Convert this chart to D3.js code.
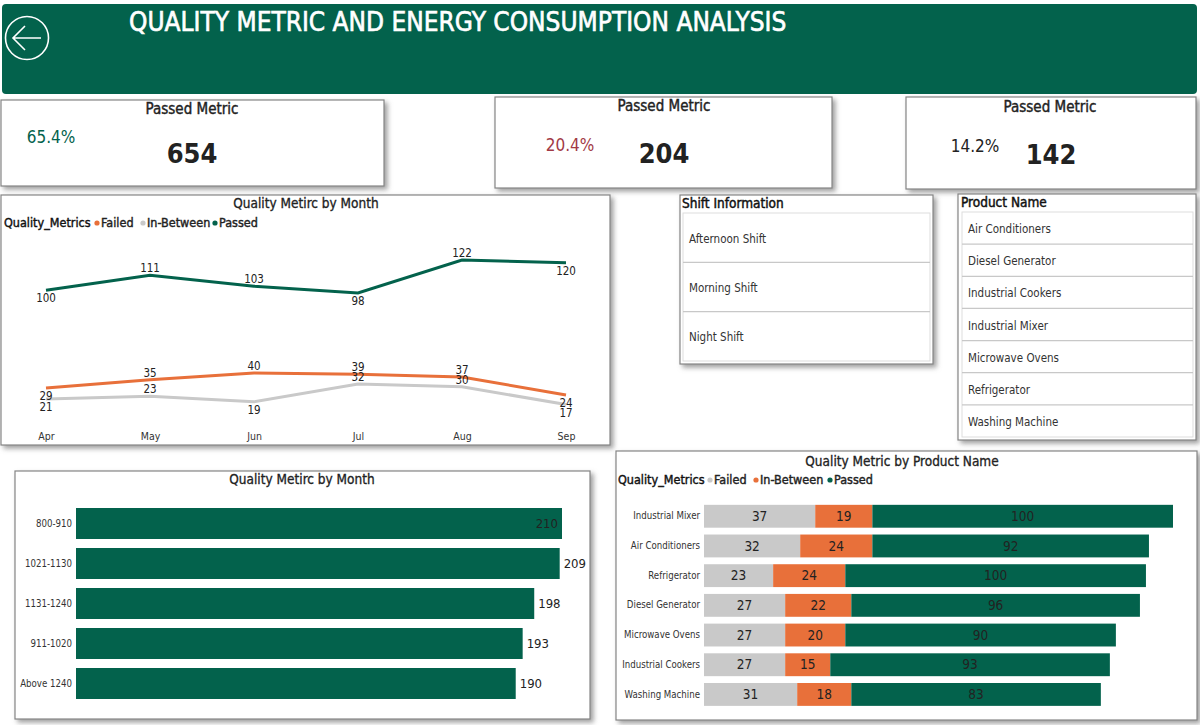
<!DOCTYPE html>
<meta charset="utf-8">
<style>
  body { margin: 0; background: #fff; }
  text { font-family: "DejaVu Sans", sans-serif; font-stretch: condensed; fill: #222; }
  .axis path, .axis line { display: none; }
</style>
<script src="https://d3js.org/d3.v7.min.js"></script>
<div id="my_dataviz"></div>
<script>

// data
var months = ["Apr", "May", "Jun", "Jul", "Aug", "Sep"];
var monthFailed = [29, 35, 40, 39, 37, 24];
var monthBetween = [21, 23, 19, 32, 30, 17];
var monthPassed = [100, 111, 103, 98, 122, 120];

var ranges = ["800-910", "1021-1130", "1131-1240", "911-1020", "Above 1240"];
var rangeCounts = [210, 209, 198, 193, 190];

var products = ["Industrial Mixer", "Air Conditioners", "Refrigerator", "Diesel Generator", "Microwave Ovens", "Industrial Cookers", "Washing Machine"];
var productFailed = [37, 32, 23, 27, 27, 27, 31];
var productBetween = [19, 24, 24, 22, 20, 15, 18];
var productPassed = [100, 92, 100, 96, 90, 93, 83];

var shiftItems = ["Afternoon Shift", "Morning Shift", "Night Shift"];
var productItems = ["Air Conditioners", "Diesel Generator", "Industrial Cookers", "Industrial Mixer", "Microwave Ovens", "Refrigerator", "Washing Machine"];

var cardTitles = ["Passed Metric", "Passed Metric", "Passed Metric"];
var cardPercents = ["65.4%", "20.4%", "14.2%"];
var cardValues = [654, 204, 142];

var green = "#03624c", orange = "#e8703a", grey = "#c9c9c9";

var svg = d3.select("#my_dataviz")
  .append("svg")
    .attr("width", 1200)
    .attr("height", 725)
    .style("display", "block");

// soft shadow for the panels
var filter = svg.append("defs").append("filter")
    .attr("id", "shadow")
    .attr("x", "-5%").attr("y", "-5%")
    .attr("width", "110%").attr("height", "115%");
filter.append("feDropShadow")
    .attr("dx", 3).attr("dy", 3)
    .attr("stdDeviation", 2.5)
    .attr("flood-color", "#777")
    .attr("flood-opacity", 0.7);

function panel(x0, y0, x1, y1) {
  svg.append("rect")
    .attr("x", x0).attr("y", y0)
    .attr("width", x1 - x0).attr("height", y1 - y0)
    .attr("fill", "#fff")
    .attr("stroke", "#858585")
    .attr("stroke-width", 1.2)
    .attr("filter", "url(#shadow)");
}

function label(x, y, txt, size, opts) {
  opts = opts || {};
  var t = svg.append("text")
    .attr("x", x).attr("y", y)
    .attr("dy", "0.35em")
    .attr("text-anchor", opts.anchor || "start")
    .style("font-size", size + "px")
    .style("font-weight", opts.weight || "normal")
    .style("fill", opts.color || "#222")
    .text(txt);
  // no semi bold face installed, a thin outline gets close
  if (opts.semi) {
    t.style("stroke", opts.color || "#222").style("stroke-width", opts.semi);
  }
  return t;
}

function legend(y, titleX, entries) {
  label(titleX, y, "Quality_Metrics", 12.5, {semi: 0.4, color: "#111"});
  entries.forEach(function(e) {
    svg.append("circle").attr("cx", e.dot).attr("cy", y).attr("r", 2.6).attr("fill", e.color);
    label(e.dot + 4, y, e.name, 12.5, {semi: 0.4});
  });
}

// header
svg.append("rect")
  .attr("x", 2).attr("y", 4)
  .attr("width", 1195).attr("height", 90)
  .attr("rx", 4)
  .attr("fill", green);
svg.append("circle")
  .attr("cx", 27).attr("cy", 38).attr("r", 21.5)
  .attr("fill", "none").attr("stroke", "#fff").attr("stroke-width", 1.6);
svg.append("path")
  .attr("d", "M41,38H13M25,26L13,38L25,50")
  .attr("fill", "none").attr("stroke", "#fff").attr("stroke-width", 1.6);
label(129, 22, "QUALITY METRIC AND ENERGY CONSUMPTION ANALYSIS", 26, {color: "#fff", semi: 0.6});

// kpi cards
var cardBoxes = [[1, 100, 384, 186], [495, 97, 832, 188], [906, 97, 1196, 189]];
var cardSpots = [
  {titleX: 192, titleY: 109, pctX: 51, pctY: 137, valX: 192, valY: 154, color: green},
  {titleX: 664, titleY: 106, pctX: 570, pctY: 145, valX: 664, valY: 154, color: "#a23a46"},
  {titleX: 1050, titleY: 107, pctX: 975, pctY: 146, valX: 1051, valY: 155, color: "#222"}
];
cardBoxes.forEach(function(b, i) {
  var s = cardSpots[i];
  panel(b[0], b[1], b[2], b[3]);
  label(s.titleX, s.titleY, cardTitles[i], 15, {anchor: "middle", semi: 0.4});
  label(s.pctX, s.pctY, cardPercents[i], 17, {anchor: "middle", color: s.color});
  label(s.valX, s.valY, cardValues[i], 27, {anchor: "middle", weight: "bold"});
});

// line chart
panel(1, 195, 610, 445);
label(306, 203, "Quality Metirc by Month", 13.5, {anchor: "middle", semi: 0.3});
legend(223, 4, [
  {dot: 97, color: orange, name: "Failed"},
  {dot: 143, color: grey, name: "In-Between"},
  {dot: 215, color: green, name: "Passed"}
]);

var xMonth = d3.scalePoint().domain(months).range([46, 566]);
var yMonth = d3.scaleLinear().domain([0, 122]).range([428, 260]);

svg.append("g")
  .attr("class", "axis")
  .attr("transform", "translate(0,430)")
  .call(d3.axisBottom(xMonth).tickSize(0))
  .call(function(g) { g.selectAll("text").style("font-size", "10.5px").style("fill", "#333"); });

var lineGen = d3.line()
  .x(function(d) { return xMonth(d.month); })
  .y(function(d) { return yMonth(d.value); });

// which labels hang under their point, the rest sit on top
var lineSeries = [
  {values: monthBetween, color: grey, below: ["Apr", "Jun", "Sep"]},
  {values: monthFailed, color: orange, below: ["Apr", "Sep"]},
  {values: monthPassed, color: green, below: ["Apr", "Jul", "Sep"]}
];

lineSeries.forEach(function(s) {
  var pts = months.map(function(m, i) { return {month: m, value: s.values[i]}; });
  svg.append("path")
    .datum(pts)
    .attr("fill", "none")
    .attr("stroke", s.color)
    .attr("stroke-width", 3)
    .attr("d", lineGen);
});
lineSeries.forEach(function(s) {
  months.forEach(function(m, i) {
    var under = s.below.indexOf(m) >= 0;
    label(xMonth(m), yMonth(s.values[i]) + (under ? 8 : -7), s.values[i], 11.5, {anchor: "middle"});
  });
});

// horizontal bars
panel(15, 471, 590, 719);
label(302, 479, "Quality Metirc by Month", 13.5, {anchor: "middle", semi: 0.3});

var xRange = d3.scaleLinear().domain([0, 210]).range([76, 562]);
var yRange = d3.scaleBand().domain(ranges).range([499, 708]).padding(0.225);

svg.append("g")
  .attr("class", "axis")
  .attr("transform", "translate(76,0)")
  .call(d3.axisLeft(yRange).tickSize(0).tickPadding(4))
  .call(function(g) { g.selectAll("text").style("font-size", "9.6px").style("fill", "#333"); });

svg.selectAll(".rangeBar")
  .data(rangeCounts)
  .enter()
  .append("rect")
    .attr("class", "rangeBar")
    .attr("x", xRange(0))
    .attr("y", function(d, i) { return yRange(ranges[i]); })
    .attr("width", function(d) { return xRange(d) - xRange(0); })
    .attr("height", yRange.bandwidth())
    .attr("fill", green);

rangeCounts.forEach(function(d, i) {
  // the biggest bar has no room so its label stays inside
  var inside = d === d3.max(rangeCounts);
  label(xRange(d) + (inside ? -4 : 4), yRange(ranges[i]) + yRange.bandwidth() / 2, d, 13,
    {anchor: inside ? "end" : "start"});
});

// stacked bars
panel(616, 451, 1197, 720);
label(902, 461, "Quality Metric by Product Name", 13.5, {anchor: "middle", semi: 0.3});
legend(480, 618, [
  {dot: 710, color: grey, name: "Failed"},
  {dot: 756, color: orange, name: "In-Between"},
  {dot: 830, color: green, name: "Passed"}
]);

var xProduct = d3.scaleLinear().domain([0, 156]).range([704, 1173]);
var yProduct = d3.scaleBand().domain(products).range([498, 712.7]).padding(0.23);

svg.append("g")
  .attr("class", "axis")
  .attr("transform", "translate(704,0)")
  .call(d3.axisLeft(yProduct).tickSize(0).tickPadding(4))
  .call(function(g) { g.selectAll("text").style("font-size", "9.6px").style("fill", "#333"); });

var stackRows = products.map(function(p, i) {
  return {product: p, failed: productFailed[i], between: productBetween[i], passed: productPassed[i]};
});
var stack = d3.stack().keys(["failed", "between", "passed"])(stackRows);
var stackColor = d3.scaleOrdinal().domain(["failed", "between", "passed"]).range([grey, orange, green]);

stack.forEach(function(layer) {
  layer.forEach(function(d) {
    svg.append("rect")
      .attr("x", xProduct(d[0]))
      .attr("y", yProduct(d.data.product))
      .attr("width", xProduct(d[1]) - xProduct(d[0]))
      .attr("height", yProduct.bandwidth())
      .attr("fill", stackColor(layer.key));
    label(xProduct((d[0] + d[1]) / 2), yProduct(d.data.product) + yProduct.bandwidth() / 2,
      d.data[layer.key], 13.5, {anchor: "middle"});
  });
});

// slicers
function slicer(box, title, titleX, titleY, list, items) {
  panel(box[0], box[1], box[2], box[3]);
  label(titleX, titleY, title, 13.5, {semi: 0.45, color: "#111"});
  svg.append("rect")
    .attr("x", list[0]).attr("y", list[1])
    .attr("width", list[2] - list[0]).attr("height", list[3] - list[1])
    .attr("fill", "#fff").attr("stroke", "#ddd");
  var y = d3.scaleBand().domain(items).range([list[1], list[3]]);
  items.forEach(function(it, i) {
    if (i > 0) {
      svg.append("line")
        .attr("x1", list[0]).attr("x2", list[2])
        .attr("y1", y(it)).attr("y2", y(it))
        .attr("stroke", "#c8c8c8").attr("stroke-width", 1.2);
    }
    label(list[0] + 6, y(it) + y.bandwidth() / 2 + 1, it, 11.5, {color: "#333"});
  });
}
slicer([680, 195, 933, 364], "Shift Information", 682, 203, [683, 213, 930, 361], shiftItems);
slicer([958, 194, 1196, 440], "Product Name", 961, 202, [962, 212, 1193, 437], productItems);

</script>
